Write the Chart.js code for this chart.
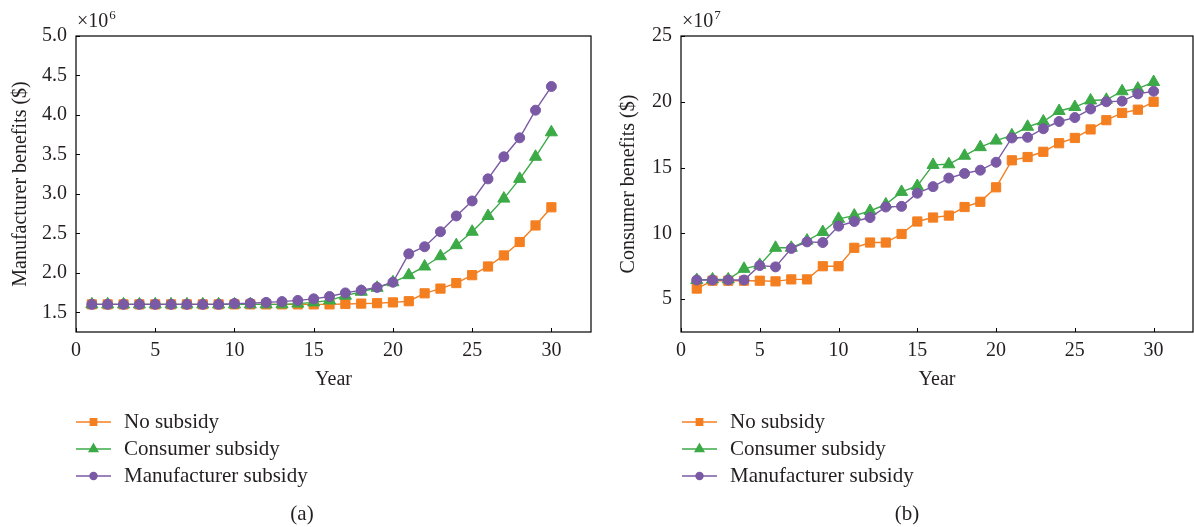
<!DOCTYPE html>
<html>
<head>
<meta charset="utf-8">
<script src="https://cdn.jsdelivr.net/npm/chart.js@4/dist/chart.umd.min.js"></script>
<style>
  html, body { margin: 0; padding: 0; background: #fff; }
  #wrap { position: relative; width: 1194px; height: 527px; overflow: hidden; }
  canvas { position: absolute; top: 0; }
  #chartA { left: 0; }
  #chartB { left: 597px; }
</style>
</head>
<body>
<div id="wrap">
  <canvas id="chartA" width="597" height="527"></canvas>
  <canvas id="chartB" width="597" height="527"></canvas>
</div>
<script>
// ==== DATA ====
const YEARS = [1, 2, 3, 4, 5, 6, 7, 8, 9, 10, 11, 12, 13, 14, 15, 16, 17, 18, 19, 20, 21, 22, 23, 24, 25, 26, 27, 28, 29, 30];
const SERIES_NAMES = ['No subsidy', 'Consumer subsidy', 'Manufacturer subsidy'];

// (a) manufacturer benefits, x10^6 $
const MFR_NONE = [1.60, 1.60, 1.60, 1.60, 1.60, 1.60, 1.60, 1.60, 1.60, 1.60, 1.60, 1.60, 1.60, 1.60, 1.60, 1.60, 1.605, 1.61, 1.615, 1.625, 1.64, 1.74, 1.80, 1.87, 1.97, 2.08, 2.22, 2.39, 2.60, 2.83];
const MFR_CONSUMER = [1.60, 1.60, 1.60, 1.60, 1.60, 1.60, 1.60, 1.60, 1.60, 1.60, 1.60, 1.60, 1.60, 1.61, 1.625, 1.65, 1.71, 1.76, 1.81, 1.88, 1.97, 2.08, 2.21, 2.35, 2.52, 2.72, 2.94, 3.19, 3.47, 3.78];
const MFR_MANUFACTURER = [1.60, 1.60, 1.60, 1.60, 1.60, 1.60, 1.60, 1.60, 1.60, 1.61, 1.615, 1.625, 1.635, 1.65, 1.67, 1.70, 1.745, 1.78, 1.815, 1.88, 2.24, 2.33, 2.52, 2.72, 2.91, 3.19, 3.47, 3.71, 4.06, 4.36];

// (b) consumer benefits, x10^7 $
const CON_NONE = [5.8, 6.4, 6.4, 6.4, 6.4, 6.35, 6.5, 6.5, 7.5, 7.5, 8.9, 9.3, 9.3, 9.95, 10.9, 11.2, 11.35, 12.0, 12.4, 13.5, 15.55, 15.8, 16.2, 16.85, 17.25, 17.9, 18.6, 19.15, 19.4, 20.0];
const CON_CONSUMER = [6.45, 6.5, 6.5, 7.3, 7.6, 8.9, 8.9, 9.45, 10.1, 11.1, 11.35, 11.7, 12.2, 13.15, 13.6, 15.2, 15.25, 15.9, 16.55, 17.05, 17.45, 18.1, 18.5, 19.3, 19.6, 20.1, 20.15, 20.8, 21.0, 21.5];
const CON_MANUFACTURER = [6.45, 6.45, 6.45, 6.45, 7.55, 7.45, 8.85, 9.35, 9.3, 10.55, 10.9, 11.2, 12.0, 12.05, 13.05, 13.55, 14.2, 14.55, 14.8, 15.4, 17.25, 17.3, 17.95, 18.5, 18.8, 19.45, 20.0, 20.05, 20.6, 20.8];

// tick labels
const X_TICKS = [0, 5, 10, 15, 20, 25, 30];
const MFR_Y_TICKS = [1.5, 2.0, 2.5, 3.0, 3.5, 4.0, 4.5, 5.0];
const CON_Y_TICKS = [5, 10, 15, 20, 25];

// ==== STYLE ====
const ORANGE = '#F47F20';
const GREEN  = '#3BAA47';
const PURPLE = '#7A59A5';
const TEXT   = '#231F20';
const SERIF  = '"Liberation Serif", "DejaVu Serif", serif';

function series(label, vals, color, style, radius, order) {
  return {
    label,
    data: YEARS.map((x, i) => ({ x, y: vals[i] })),
    borderColor: color,
    backgroundColor: color,
    borderWidth: 1.4,
    pointStyle: style,
    pointRadius: radius,
    pointBorderWidth: 1,
    pointBorderColor: color,
    pointBackgroundColor: color,
    tension: 0,
    order
  };
}

// frame, inward ticks, exponent, legend and caption
const decor = {
  id: 'decor',
  beforeDatasetsDraw(chart, args, o) {
    const { ctx, chartArea: a, scales } = chart;
    ctx.save();
    ctx.strokeStyle = '#000';
    ctx.lineWidth = 1.2;
    ctx.strokeRect(a.left, a.top, a.right - a.left, a.bottom - a.top);
    ctx.lineWidth = 1;
    X_TICKS.forEach(v => {
      const px = Math.round(scales.x.getPixelForValue(v)) + 0.5;
      ctx.beginPath(); ctx.moveTo(px, a.bottom); ctx.lineTo(px, a.bottom - 4); ctx.stroke();
    });
    o.yTicks.forEach(v => {
      const py = Math.round(scales.y.getPixelForValue(v)) + 0.5;
      ctx.beginPath(); ctx.moveTo(a.left, py); ctx.lineTo(a.left + 4, py); ctx.stroke();
    });
    ctx.restore();
  },
  afterDraw(chart, args, o) {
    const { ctx, chartArea: a } = chart;
    ctx.save();
    ctx.fillStyle = TEXT;
    ctx.textBaseline = 'alphabetic';
    // exponent
    ctx.font = '20px ' + SERIF;
    ctx.textAlign = 'left';
    ctx.fillText('\u00d710', a.left + 1, 27);
    const w = ctx.measureText('\u00d710').width;
    ctx.font = '13px ' + SERIF;
    ctx.fillText(o.exponent, a.left + 1 + w + 1, 19);

    // legend
    chart.data.datasets.forEach((ds, i) => {
      const y = o.legendY + i * 27;
      const x0 = o.legendX, x1 = o.legendX + 35;
      ctx.strokeStyle = ds.borderColor;
      ctx.fillStyle = ds.backgroundColor;
      ctx.lineWidth = 1.4;
      ctx.beginPath(); ctx.moveTo(x0, y); ctx.lineTo(x1, y); ctx.stroke();
      Chart.helpers.drawPoint(ctx, {
        pointStyle: ds.pointStyle,
        radius: ds.pointStyle === 'triangle' ? 5 : (ds.pointStyle === 'rect' ? 4.5 : 3.5),
        rotation: 0,
        borderWidth: 1
      }, (x0 + x1) / 2, y);
      ctx.fillStyle = TEXT;
      ctx.font = '21px ' + SERIF;
      ctx.textBaseline = 'middle';
      ctx.fillText(ds.label, o.legendX + 48, y);
    });

    // caption
    ctx.font = '21px ' + SERIF;
    ctx.textAlign = 'center';
    ctx.textBaseline = 'middle';
    ctx.fillText(o.caption, o.captionX, 514);
    ctx.restore();
  }
};

function build(id, p) {
  return new Chart(document.getElementById(id), {
    type: 'line',
    data: {
      datasets: [
        series(SERIES_NAMES[0], p.none, ORANGE, 'rect', 6.5, 2),
        series(SERIES_NAMES[1], p.consumer, GREEN, 'triangle', 7, 1),
        series(SERIES_NAMES[2], p.manufacturer, PURPLE, 'circle', 5, 0)
      ]
    },
    options: {
      responsive: false,
      animation: false,
      layout: { autoPadding: false, padding: { left: p.padLeft, top: 36, right: p.padRight, bottom: 131 } },
      plugins: {
        legend: { display: false },
        tooltip: { enabled: false },
        decor: { exponent: p.exponent, yTicks: p.yTicks, legendX: p.legendX, legendY: 422, caption: p.caption, captionX: p.captionX }
      },
      scales: {
        x: {
          type: 'linear', min: 0, max: 32.5,
          grid: { display: false, drawTicks: false },
          border: { display: false },
          afterBuildTicks: s => { s.ticks = X_TICKS.map(v => ({ value: v })); },
          afterFit: s => { s.height = 64; s.paddingLeft = 0; s.paddingRight = 0; },
          ticks: { padding: 7, color: TEXT, font: { family: SERIF, size: 20 }, maxRotation: 0, autoSkip: false },
          title: { display: true, text: 'Year', color: TEXT, font: { family: SERIF, size: 20 }, padding: { top: 0, bottom: 4 } }
        },
        y: {
          min: p.yMin, max: p.yMax,
          grid: { display: false, drawTicks: false },
          border: { display: false },
          afterBuildTicks: s => { s.ticks = p.yTicks.map(v => ({ value: v })); },
          afterFit: s => { s.width = p.axisLeft - p.padLeft; s.paddingTop = 0; s.paddingBottom = 0; },
          ticks: { padding: 9, color: TEXT, font: { family: SERIF, size: 20 }, callback: p.fmt },
          title: { display: true, text: p.yTitle, color: TEXT, font: { family: SERIF, size: 20 }, padding: { top: p.titleGap, bottom: 0 } }
        }
      }
    },
    plugins: [decor]
  });
}

build('chartA', {
  none: MFR_NONE, consumer: MFR_CONSUMER, manufacturer: MFR_MANUFACTURER,
  yMin: 1.25, yMax: 5.0, yTicks: MFR_Y_TICKS, fmt: v => Number(v).toFixed(1),
  yTitle: 'Manufacturer benefits ($)', exponent: '6',
  padLeft: 0, padRight: 6, axisLeft: 76, titleGap: 9,
  legendX: 76, caption: '(a)', captionX: 302
});

build('chartB', {
  none: CON_NONE, consumer: CON_CONSUMER, manufacturer: CON_MANUFACTURER,
  yMin: 2.5, yMax: 25, yTicks: CON_Y_TICKS, fmt: v => String(v),
  yTitle: 'Consumer benefits ($)', exponent: '7',
  padLeft: 11, padRight: 1, axisLeft: 84, titleGap: 9,
  legendX: 85, caption: '(b)', captionX: 310
});
</script>
</body>
</html>
